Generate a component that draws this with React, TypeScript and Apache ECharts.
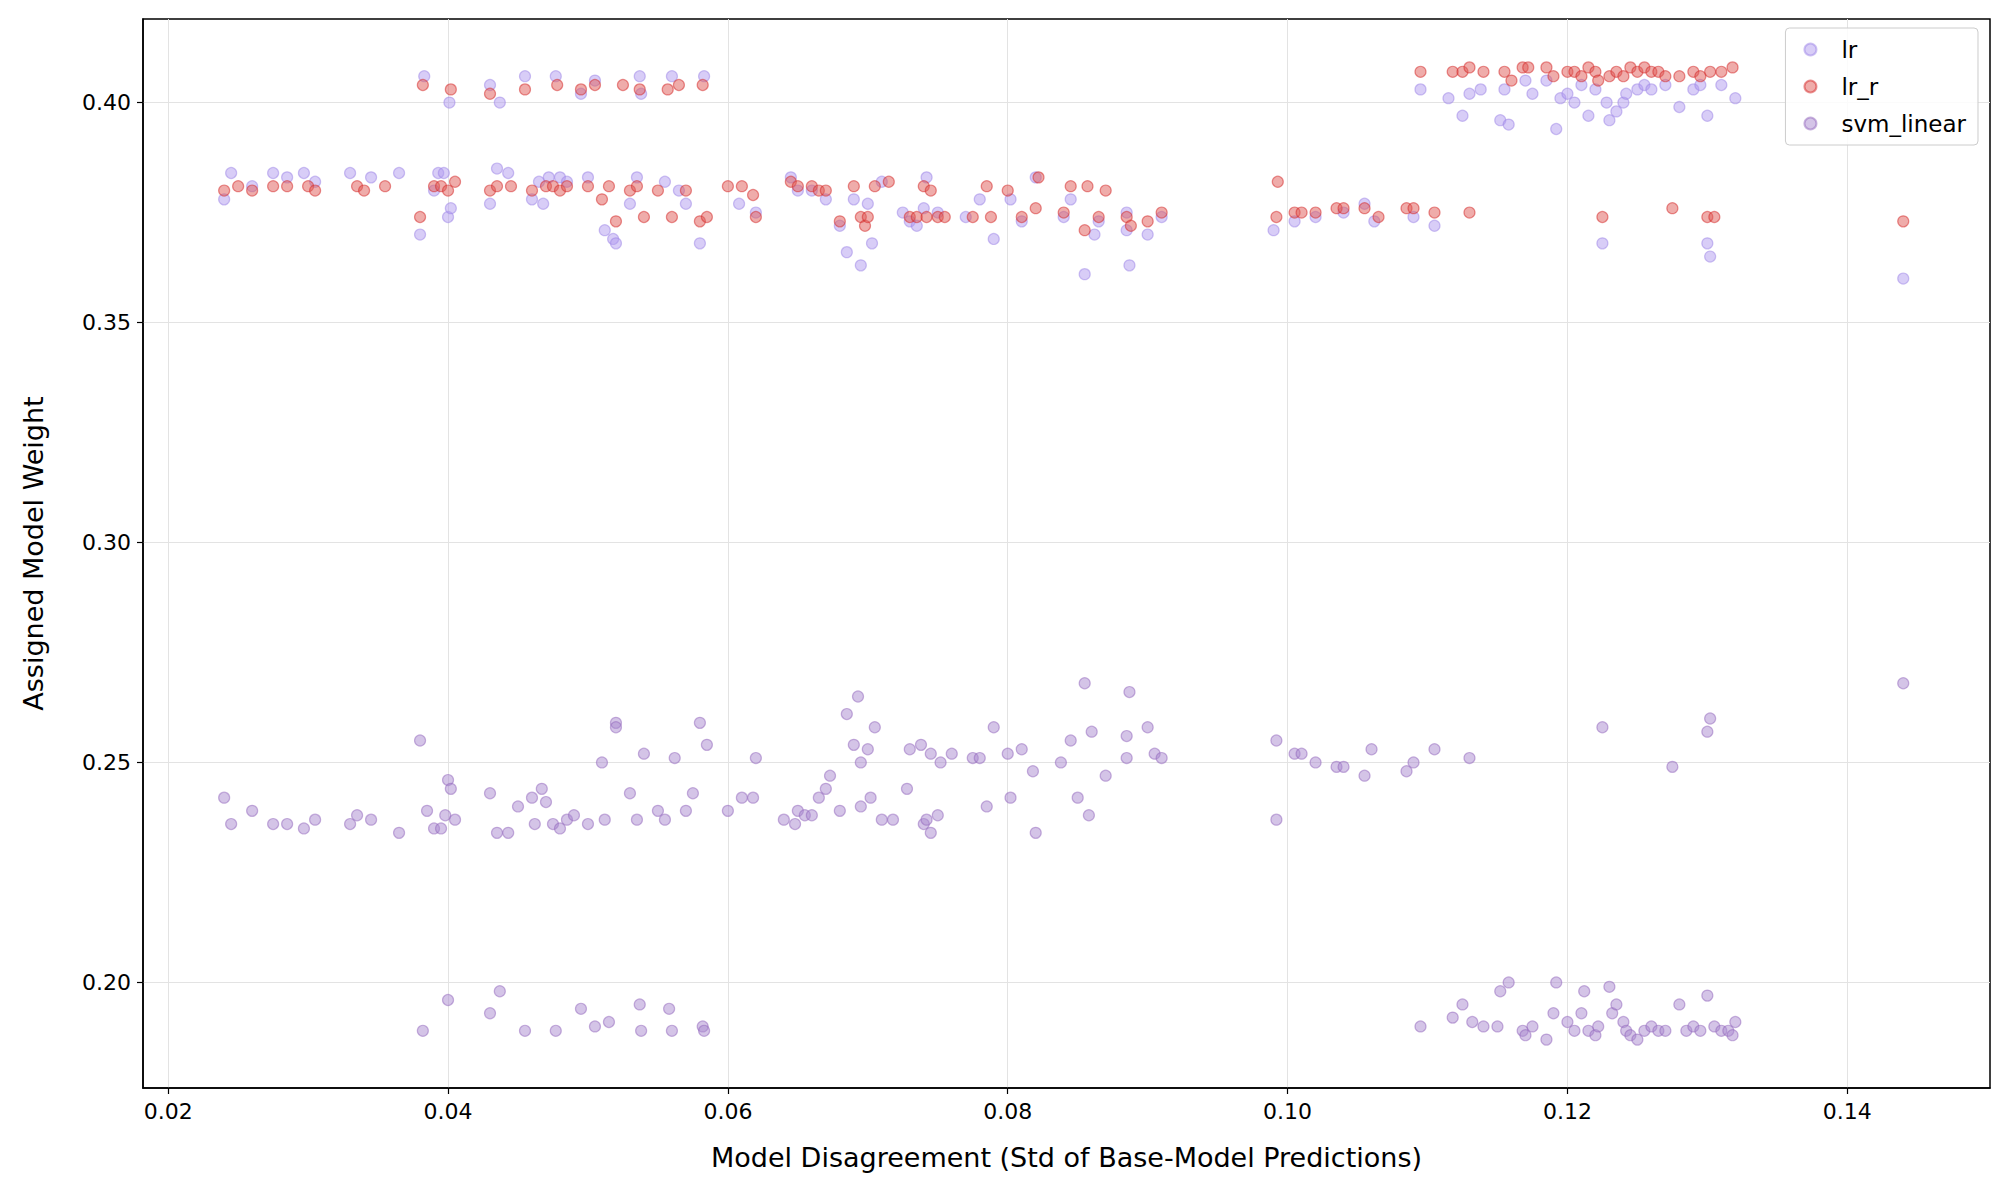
import { useEffect, useRef } from "react";
import * as echarts from "echarts";

const X_TICKS = [0.02, 0.04, 0.06, 0.08, 0.1, 0.12, 0.14];
const Y_TICKS = [0.2, 0.25, 0.3, 0.35, 0.4];

const LR: [number, number][] = [
  [0.024, 0.378], [0.0245, 0.384], [0.026, 0.381], [0.0275, 0.384], [0.0285, 0.383], [0.0297, 0.384], [0.0305, 0.382],
  [0.033, 0.384], [0.0345, 0.383], [0.0365, 0.384], [0.038, 0.37], [0.0383, 0.406], [0.039, 0.38], [0.0393, 0.384],
  [0.0397, 0.384], [0.04, 0.374], [0.0402, 0.376], [0.0401, 0.4], [0.043, 0.377], [0.043, 0.404], [0.0435, 0.385],
  [0.0437, 0.4], [0.0443, 0.384], [0.0455, 0.406], [0.046, 0.378], [0.0465, 0.382], [0.0468, 0.377], [0.0472, 0.383],
  [0.0477, 0.406], [0.048, 0.383], [0.0485, 0.382], [0.0495, 0.402], [0.05, 0.383], [0.0505, 0.405], [0.0512, 0.371],
  [0.0518, 0.369], [0.052, 0.368], [0.053, 0.377], [0.0535, 0.383], [0.0537, 0.406], [0.0538, 0.402], [0.0555, 0.382],
  [0.056, 0.406], [0.0565, 0.38], [0.057, 0.377], [0.058, 0.368], [0.0583, 0.406], [0.0608, 0.377], [0.062, 0.375],
  [0.0645, 0.383], [0.065, 0.38], [0.066, 0.38], [0.067, 0.378], [0.068, 0.372], [0.0685, 0.366], [0.069, 0.378],
  [0.0695, 0.363], [0.07, 0.377], [0.0703, 0.368], [0.071, 0.382], [0.0725, 0.375], [0.073, 0.373], [0.0735, 0.372],
  [0.074, 0.376], [0.0742, 0.383], [0.075, 0.375], [0.077, 0.374], [0.078, 0.378], [0.079, 0.369], [0.0802, 0.378],
  [0.081, 0.373], [0.082, 0.383], [0.084, 0.374], [0.0845, 0.378], [0.0855, 0.361], [0.0862, 0.37], [0.0865, 0.373],
  [0.0885, 0.375], [0.0887, 0.363], [0.0885, 0.371], [0.09, 0.37], [0.091, 0.374], [0.099, 0.371], [0.1005, 0.373],
  [0.102, 0.374], [0.104, 0.375], [0.1055, 0.377], [0.1062, 0.373], [0.109, 0.374], [0.1095, 0.403], [0.1105, 0.372],
  [0.1115, 0.401], [0.1125, 0.397], [0.113, 0.402], [0.1138, 0.403], [0.1152, 0.396], [0.1155, 0.403], [0.1158, 0.395],
  [0.117, 0.405], [0.1175, 0.402], [0.1185, 0.405], [0.1192, 0.394], [0.1195, 0.401], [0.12, 0.402], [0.1205, 0.4],
  [0.121, 0.404], [0.1215, 0.397], [0.122, 0.403], [0.1225, 0.368], [0.1228, 0.4], [0.123, 0.396], [0.1235, 0.398],
  [0.124, 0.4], [0.1242, 0.402], [0.125, 0.403], [0.1255, 0.404], [0.126, 0.403], [0.127, 0.404], [0.128, 0.399],
  [0.129, 0.403], [0.1295, 0.404], [0.13, 0.397], [0.13, 0.368], [0.1302, 0.365], [0.131, 0.404], [0.132, 0.401],
  [0.144, 0.36],
];

const LR_R: [number, number][] = [
  [0.024, 0.38], [0.025, 0.381], [0.026, 0.38], [0.0275, 0.381], [0.0285, 0.381], [0.03, 0.381], [0.0305, 0.38],
  [0.0335, 0.381], [0.034, 0.38], [0.0355, 0.381], [0.038, 0.374], [0.0382, 0.404], [0.039, 0.381], [0.0395, 0.381],
  [0.04, 0.38], [0.0402, 0.403], [0.0405, 0.382], [0.043, 0.38], [0.043, 0.402], [0.0435, 0.381], [0.0445, 0.381],
  [0.0455, 0.403], [0.046, 0.38], [0.047, 0.381], [0.0475, 0.381], [0.0478, 0.404], [0.048, 0.38], [0.0485, 0.381],
  [0.0495, 0.403], [0.05, 0.381], [0.0505, 0.404], [0.051, 0.378], [0.0515, 0.381], [0.052, 0.373], [0.0525, 0.404],
  [0.053, 0.38], [0.0535, 0.381], [0.0537, 0.403], [0.054, 0.374], [0.055, 0.38], [0.0557, 0.403], [0.056, 0.374],
  [0.0565, 0.404], [0.057, 0.38], [0.058, 0.373], [0.0582, 0.404], [0.0585, 0.374], [0.06, 0.381], [0.061, 0.381],
  [0.062, 0.374], [0.0618, 0.379], [0.0645, 0.382], [0.065, 0.381], [0.066, 0.381], [0.0665, 0.38], [0.067, 0.38],
  [0.068, 0.373], [0.069, 0.381], [0.0695, 0.374], [0.0698, 0.372], [0.07, 0.374], [0.0705, 0.381], [0.0715, 0.382],
  [0.073, 0.374], [0.0735, 0.374], [0.074, 0.381], [0.0745, 0.38], [0.0742, 0.374], [0.075, 0.374], [0.0755, 0.374],
  [0.0775, 0.374], [0.0785, 0.381], [0.0788, 0.374], [0.08, 0.38], [0.081, 0.374], [0.082, 0.376], [0.0822, 0.383],
  [0.084, 0.375], [0.0845, 0.381], [0.0855, 0.371], [0.0857, 0.381], [0.0865, 0.374], [0.087, 0.38], [0.0885, 0.374],
  [0.0888, 0.372], [0.09, 0.373], [0.091, 0.375], [0.0992, 0.374], [0.0993, 0.382], [0.1005, 0.375], [0.101, 0.375],
  [0.102, 0.375], [0.1035, 0.376], [0.104, 0.376], [0.1055, 0.376], [0.1065, 0.374], [0.1085, 0.376], [0.109, 0.376],
  [0.1095, 0.407], [0.1105, 0.375], [0.1118, 0.407], [0.1125, 0.407], [0.113, 0.375], [0.113, 0.408], [0.114, 0.407],
  [0.1155, 0.407], [0.116, 0.405], [0.1168, 0.408], [0.1172, 0.408], [0.1185, 0.408], [0.119, 0.406], [0.12, 0.407],
  [0.1205, 0.407], [0.121, 0.406], [0.1215, 0.408], [0.122, 0.407], [0.1222, 0.405], [0.1225, 0.374], [0.123, 0.406],
  [0.1235, 0.407], [0.124, 0.406], [0.1245, 0.408], [0.125, 0.407], [0.1255, 0.408], [0.126, 0.407], [0.1265, 0.407],
  [0.127, 0.406], [0.1275, 0.376], [0.128, 0.406], [0.129, 0.407], [0.1295, 0.406], [0.13, 0.374], [0.1302, 0.407],
  [0.1305, 0.374], [0.131, 0.407], [0.1318, 0.408], [0.144, 0.373],
];

const SVM_LINEAR: [number, number][] = [
  [0.024, 0.242], [0.0245, 0.236], [0.026, 0.239], [0.0275, 0.236], [0.0285, 0.236], [0.0297, 0.235], [0.0305, 0.237],
  [0.033, 0.236], [0.0335, 0.238], [0.0345, 0.237], [0.0365, 0.234], [0.038, 0.255], [0.0382, 0.189], [0.0385, 0.239],
  [0.039, 0.235], [0.0395, 0.235], [0.0398, 0.238], [0.04, 0.246], [0.04, 0.196], [0.0402, 0.244], [0.0405, 0.237],
  [0.043, 0.243], [0.043, 0.193], [0.0435, 0.234], [0.0437, 0.198], [0.0443, 0.234], [0.045, 0.24], [0.0455, 0.189],
  [0.046, 0.242], [0.0462, 0.236], [0.0467, 0.244], [0.047, 0.241], [0.0475, 0.236], [0.0477, 0.189], [0.048, 0.235],
  [0.0485, 0.237], [0.049, 0.238], [0.0495, 0.194], [0.05, 0.236], [0.0505, 0.19], [0.051, 0.25], [0.0512, 0.237],
  [0.0515, 0.191], [0.052, 0.259], [0.052, 0.258], [0.053, 0.243], [0.0535, 0.237], [0.0537, 0.195], [0.0538, 0.189],
  [0.054, 0.252], [0.055, 0.239], [0.0555, 0.237], [0.0558, 0.194], [0.056, 0.189], [0.0562, 0.251], [0.057, 0.239],
  [0.0575, 0.243], [0.058, 0.259], [0.0582, 0.19], [0.0585, 0.254], [0.0583, 0.189], [0.06, 0.239], [0.061, 0.242],
  [0.062, 0.251], [0.0618, 0.242], [0.064, 0.237], [0.065, 0.239], [0.0648, 0.236], [0.0655, 0.238], [0.066, 0.238],
  [0.0665, 0.242], [0.067, 0.244], [0.0673, 0.247], [0.068, 0.239], [0.0685, 0.261], [0.069, 0.254], [0.0693, 0.265],
  [0.0695, 0.24], [0.0695, 0.25], [0.07, 0.253], [0.0702, 0.242], [0.0705, 0.258], [0.071, 0.237], [0.0718, 0.237],
  [0.0728, 0.244], [0.073, 0.253], [0.0738, 0.254], [0.074, 0.236], [0.0742, 0.237], [0.0745, 0.252], [0.0745, 0.234],
  [0.075, 0.238], [0.0752, 0.25], [0.076, 0.252], [0.0775, 0.251], [0.078, 0.251], [0.0785, 0.24], [0.079, 0.258],
  [0.08, 0.252], [0.0802, 0.242], [0.081, 0.253], [0.0818, 0.248], [0.082, 0.234], [0.0838, 0.25], [0.0845, 0.255],
  [0.085, 0.242], [0.0855, 0.268], [0.0858, 0.238], [0.086, 0.257], [0.087, 0.247], [0.0885, 0.256], [0.0885, 0.251],
  [0.0887, 0.266], [0.09, 0.258], [0.0905, 0.252], [0.091, 0.251], [0.0992, 0.255], [0.0992, 0.237], [0.1005, 0.252],
  [0.101, 0.252], [0.102, 0.25], [0.1035, 0.249], [0.104, 0.249], [0.1055, 0.247], [0.106, 0.253], [0.1085, 0.248],
  [0.109, 0.25], [0.1095, 0.19], [0.1105, 0.253], [0.1118, 0.192], [0.1125, 0.195], [0.113, 0.251], [0.1132, 0.191],
  [0.114, 0.19], [0.115, 0.19], [0.1152, 0.198], [0.1158, 0.2], [0.1168, 0.189], [0.117, 0.188], [0.1175, 0.19],
  [0.1185, 0.187], [0.119, 0.193], [0.1192, 0.2], [0.12, 0.191], [0.1205, 0.189], [0.121, 0.193], [0.1212, 0.198],
  [0.1215, 0.189], [0.122, 0.188], [0.1222, 0.19], [0.1225, 0.258], [0.123, 0.199], [0.1232, 0.193], [0.1235, 0.195],
  [0.124, 0.191], [0.1242, 0.189], [0.1245, 0.188], [0.125, 0.187], [0.1255, 0.189], [0.126, 0.19], [0.1265, 0.189],
  [0.127, 0.189], [0.1275, 0.249], [0.128, 0.195], [0.1285, 0.189], [0.129, 0.19], [0.1295, 0.189], [0.13, 0.197],
  [0.13, 0.257], [0.1302, 0.26], [0.1305, 0.19], [0.131, 0.189], [0.1315, 0.189], [0.132, 0.191], [0.1318, 0.188],
  [0.144, 0.268],
];

const FONT = "DejaVu Sans";

const scatter = (name: string, data: [number, number][], color: string, border: string) => ({
  type: "scatter" as const,
  name,
  data,
  symbolSize: 11,
  itemStyle: { color, opacity: 0.5, borderColor: border, borderWidth: 1.2 },
});

export default function App() {
  const ref = useRef<HTMLDivElement>(null);

  useEffect(() => {
    document.body.style.margin = "0";
    if (!ref.current) return;
    const chart = echarts.init(ref.current, undefined, { renderer: "svg" });
    const axisCommon = {
      axisLine: { show: true, onZero: false, lineStyle: { color: "#000", width: 1.5 } },
      axisTick: { show: true, length: 6, lineStyle: { color: "#000", width: 1.2 } },
      splitLine: { show: true, lineStyle: { color: "#e3e3e3", width: 1 } },
      nameLocation: "middle" as const,
      nameTextStyle: { fontFamily: FONT, fontSize: 27, color: "#000" },
    };
    chart.setOption({
      animation: false,
      backgroundColor: "#fff",
      grid: { left: 143, right: 16, top: 19, bottom: 106, show: true, borderColor: "#000", borderWidth: 1.5, backgroundColor: "transparent" },
      legend: {
        right: 28,
        top: 28,
        orient: "vertical",
        icon: "circle",
        itemWidth: 12,
        itemHeight: 12,
        itemGap: 14,
        padding: [10, 12, 10, 18],
        borderColor: "#ccc",
        borderWidth: 1,
        borderRadius: 4,
        backgroundColor: "rgba(255,255,255,0.85)",
        textStyle: { fontFamily: FONT, fontSize: 23, color: "#000", padding: [0, 0, 0, 20] },
        data: ["lr", "lr_r", "svm_linear"],
      },
      xAxis: {
        ...axisCommon,
        type: "value",
        min: 0.0182,
        max: 0.1502,
        name: "Model Disagreement (Std of Base-Model Predictions)",
        nameGap: 56,
        axisTick: { ...axisCommon.axisTick, customValues: X_TICKS },
        axisLabel: { customValues: X_TICKS, fontFamily: FONT, fontSize: 22, color: "#000", margin: 12, formatter: (v: number) => v.toFixed(2) },
      },
      yAxis: {
        ...axisCommon,
        type: "value",
        min: 0.176,
        max: 0.419,
        name: "Assigned Model Weight",
        nameGap: 96,
        axisTick: { ...axisCommon.axisTick, customValues: Y_TICKS },
        axisLabel: { customValues: Y_TICKS, fontFamily: FONT, fontSize: 22, color: "#000", margin: 12, formatter: (v: number) => v.toFixed(2) },
      },
      series: [
        scatter("lr", LR, "#b19cf0", "#9d86e8"),
        scatter("lr_r", LR_R, "#e05a55", "#d62728"),
        scatter("svm_linear", SVM_LINEAR, "#a98ad0", "#9467bd"),
      ],
    });
    return () => chart.dispose();
  }, []);

  return <div ref={ref} style={{ width: 2006, height: 1194 }} />;
}
